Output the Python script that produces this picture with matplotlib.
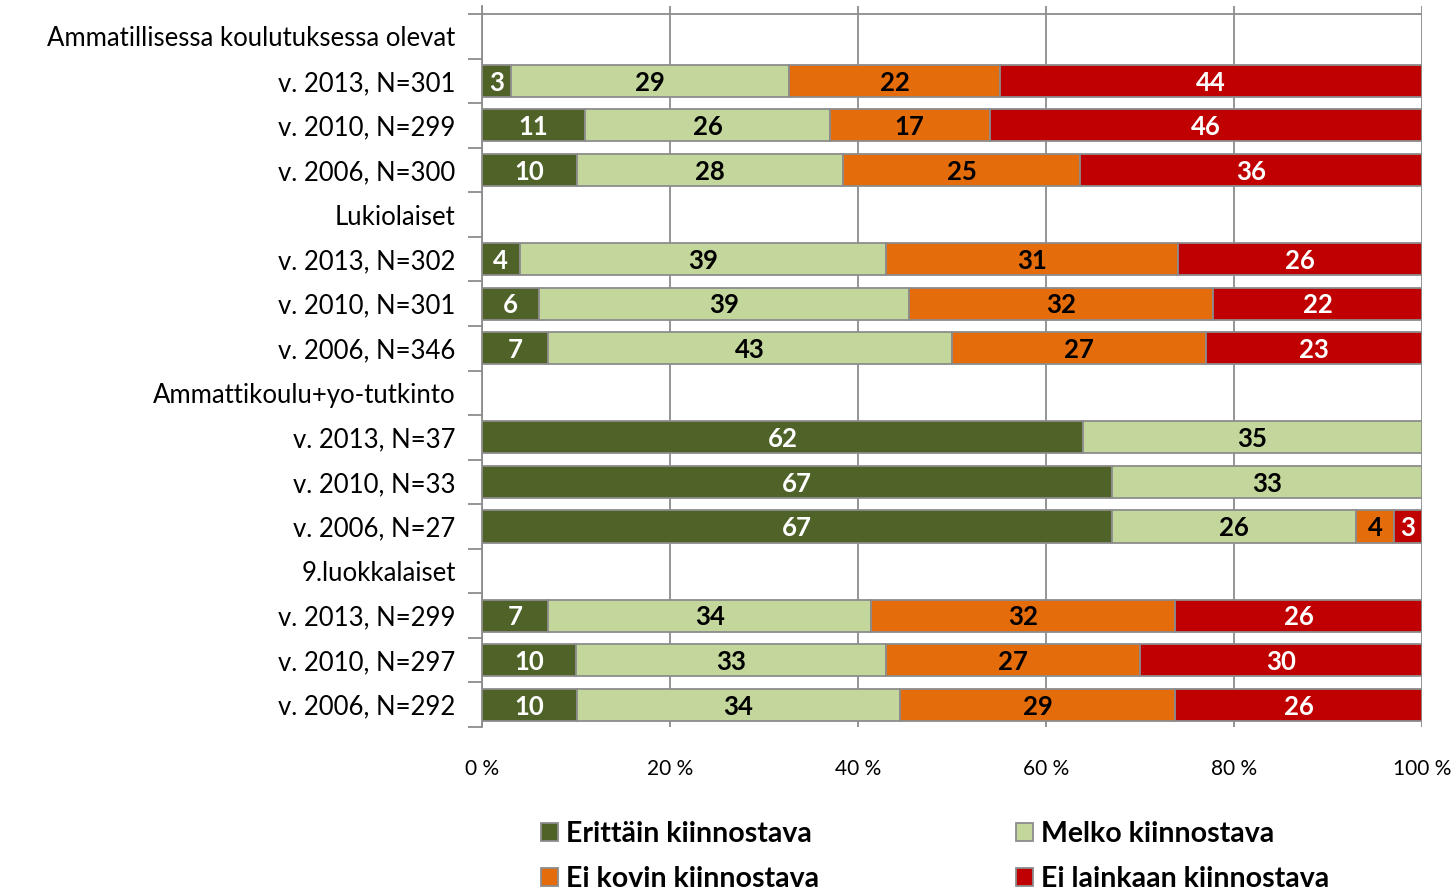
import numpy as np
import matplotlib
matplotlib.use('Agg')
import matplotlib.pyplot as plt
from matplotlib.patches import Patch

plt.rcParams['font.family'] = ['Lato', 'DejaVu Sans']

# --- data ---
row_labels = ['Ammatillisessa koulutuksessa olevat',
              'v. 2013, N=301', 'v. 2010, N=299', 'v. 2006, N=300',
              'Lukiolaiset',
              'v. 2013, N=302', 'v. 2010, N=301', 'v. 2006, N=346',
              'Ammattikoulu+yo-tutkinto',
              'v. 2013, N=37', 'v. 2010, N=33', 'v. 2006, N=27',
              '9.luokkalaiset',
              'v. 2013, N=299', 'v. 2010, N=297', 'v. 2006, N=292']
series = ['Erittäin kiinnostava', 'Melko kiinnostava',
          'Ei kovin kiinnostava', 'Ei lainkaan kiinnostava']
# None = group heading row (no bar)
erittain = [None, 3, 11, 10, None, 4, 6, 7, None, 62, 67, 67, None, 7, 10, 10]
melko    = [None, 29, 26, 28, None, 39, 39, 43, None, 35, 33, 26, None, 34, 33, 34]
ei_kovin = [None, 22, 17, 25, None, 31, 32, 27, None, 0, 0, 4, None, 32, 27, 29]
ei_lain  = [None, 44, 46, 36, None, 26, 22, 23, None, 0, 0, 3, None, 26, 30, 26]

colors = ['#4F6228', '#C3D69B', '#E46C0A', '#C00000']
text_colors = ['white', 'black', 'black', 'white']

fig = plt.figure(figsize=(14.56, 8.91), dpi=100)
ax = fig.add_axes([482 / 1456, 1 - 727 / 891, 940 / 1456, 721 / 891])

data = [erittain, melko, ei_kovin, ei_lain]
n = len(row_labels)
for i in range(n):
    if erittain[i] is None:
        continue
    vals = np.array([d[i] for d in data], dtype=float)
    pct = vals / vals.sum() * 100
    left = 0
    for j, (v, p) in enumerate(zip(vals, pct)):
        if v > 0:
            ax.barh(i, p, left=left, height=0.72, color=colors[j],
                    edgecolor='#8C8C8C', linewidth=1.3, zorder=3)
            ax.text(left + p / 2, i + 0.04, f'{int(v)}', ha='center', va='center',
                    color=text_colors[j], fontsize=18.5, fontweight='bold', zorder=4)
        left += p

ax.set_xlim(0, 100)
ax.set_ylim(n - 0.5, -0.68)
ax.set_xticks(np.arange(0, 101, 20))
ax.set_xticklabels([f'{v} %' for v in range(0, 101, 20)], fontsize=15)
ax.tick_params(axis='x', length=0, pad=23)
ax.grid(axis='x', color='#8C8C8C', linewidth=1.3, zorder=0)

ax.set_yticks(np.arange(n))
ax.set_yticklabels(row_labels, fontsize=18.5)
ax.tick_params(axis='y', which='major', length=0, pad=19)
ax.set_yticks(np.arange(-0.5, n, 1), minor=True)
ax.tick_params(axis='y', which='minor', length=10, color='#8C8C8C', width=1.3)

for s in ['top', 'right', 'bottom']:
    ax.spines[s].set_visible(False)
ax.spines['left'].set_color('#8C8C8C')
ax.spines['left'].set_linewidth(1.3)
ax.axhline(-0.5, color='#8C8C8C', linewidth=1.3, zorder=1)

# legend fills row-wise in the reference: reorder for matplotlib's column fill
order = [0, 2, 1, 3]
handles = [Patch(facecolor=colors[k], edgecolor='#8C8C8C', linewidth=1.3) for k in order]
fig.legend(handles, [series[k] for k in order], loc='upper left',
           bbox_to_anchor=(515 / 1456, 1 - 795 / 891),
           ncol=2, frameon=False, prop={'size': 20.5, 'weight': 'bold'},
           handlelength=0.6, handleheight=0.6, handletextpad=0.3,
           columnspacing=6.9, labelspacing=0.68)

fig.savefig('out.png', dpi=100)
